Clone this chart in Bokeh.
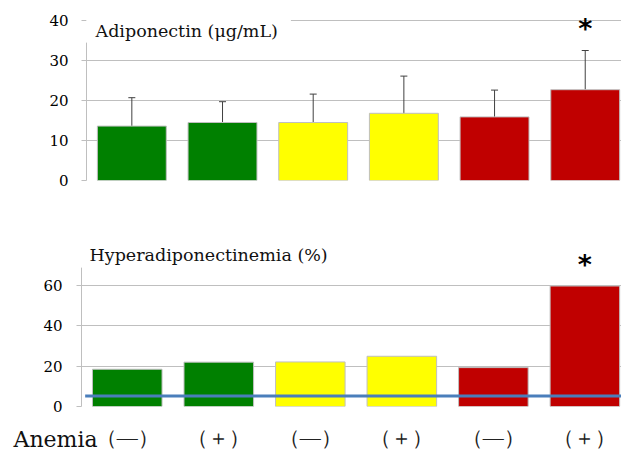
from bokeh.plotting import figure
from bokeh.layouts import column
from bokeh.models import (ColumnDataSource, Whisker, TeeHead, Label, LabelSet, FixedTicker,
                          Range1d, LinearAxis)
from bokeh.embed import file_html
from bokeh.resources import INLINE

# ---------------- data ----------------
groups = ["（—）", "（＋）", "（—）", "（＋）", "（—）", "（＋）"]
bar_colors = ["#008000", "#008000", "#FFFF00", "#FFFF00", "#C00000", "#C00000"]
adiponectin_mean = [13.6, 14.5, 14.5, 16.8, 15.9, 22.7]
adiponectin_sd = [7.1, 5.2, 7.1, 9.3, 6.7, 9.8]
hyper_pct = [18.4, 21.9, 22.0, 24.8, 19.2, 59.5]
reference_pct = 5.2
significant = [False, False, False, False, False, True]
top_ticks = [0, 10, 20, 30, 40]
bottom_ticks = [0, 20, 40, 60]
bottom_grid = [0, 20, 40, 60, 80]

positions = [i + 0.5 for i in range(len(groups))]
GRID = "#BFBFBF"
SERIF = "DejaVu Serif"
BAR_W = 0.76
X_END = 5.9
W = 621
LEFT2 = 81


def style(p, ticks, grid_ticks, line_bounds, standoff):
    p.frame_align = False
    p.xaxis.visible = False
    p.xgrid.visible = False
    p.ygrid.ticker = FixedTicker(ticks=grid_ticks)
    p.ygrid.grid_line_color = GRID
    p.ygrid.grid_line_width = 1
    inner = p.left[0]
    inner.ticker = FixedTicker(ticks=[])
    inner.bounds = line_bounds
    inner.axis_line_color = GRID
    inner.major_tick_line_color = None
    inner.minor_tick_line_color = None
    inner.major_label_standoff = 0
    outer = LinearAxis(ticker=FixedTicker(ticks=ticks), axis_line_color=None,
                       major_tick_line_color=GRID, major_tick_in=0, major_tick_out=5,
                       minor_tick_line_color=None,
                       major_label_text_font=SERIF, major_label_text_font_size="15px",
                       major_label_text_color="#000000", major_label_standoff=standoff)
    p.add_layout(outer, "left")
    p.outline_line_color = None
    p.background_fill_color = "white"
    p.border_fill_color = "white"


# ---------------- top chart ----------------
src1 = ColumnDataSource(dict(
    x=positions, top=adiponectin_mean, color=bar_colors,
    upper=[m + s for m, s in zip(adiponectin_mean, adiponectin_sd)],
    lower=[m - s for m, s in zip(adiponectin_mean, adiponectin_sd)],
))

p1 = figure(width=W, height=200, output_backend="svg", toolbar_location=None,
            x_range=Range1d(0, X_END), y_range=Range1d(0, 42.5),
            min_border_left=86, min_border_right=0, min_border_top=10, min_border_bottom=20)
style(p1, top_ticks, top_ticks, (0, 34.5), 13)
p1.vbar(x="x", top="top", width=BAR_W, bottom=0, fill_color="color",
        line_color=GRID, line_width=1, source=src1)
p1.add_layout(Whisker(source=src1, base="x", upper="upper", lower="lower",
                      line_color="#404040", line_width=1,
                      upper_head=TeeHead(size=7, line_color="#404040", line_width=1),
                      lower_head=TeeHead(size=7, line_color="#404040", line_width=1)))
p1.add_layout(Label(x=-2, y=155, x_units="screen", y_units="screen",
                    text="Adiponectin (μg/mL)", text_font=SERIF, text_font_size="17.5px",
                    text_baseline="middle", text_align="left", text_color="#111111",
                    background_fill_color="white",
                    padding=dict(left=11, right=13, top=12, bottom=2)))
for xi, yi, si in zip(positions, src1.data["upper"], significant):
    if si:
        p1.add_layout(Label(x=xi, y=yi, y_offset=7, text="*", text_align="center",
                            text_font="DejaVu Sans", text_font_style="bold",
                            text_font_size="27px", text_color="black"))

# ---------------- bottom chart ----------------
src2 = ColumnDataSource(dict(x=positions, top=hyper_pct, color=bar_colors, label=groups))

p2 = figure(width=W, height=218, output_backend="svg", toolbar_location=None,
            x_range=Range1d(0, X_END), y_range=Range1d(0, 80),
            min_border_left=LEFT2, min_border_right=0, min_border_top=44, min_border_bottom=12)
style(p2, bottom_ticks, bottom_grid, (0, 68.5), 14)
p2.vbar(x="x", top="top", width=BAR_W, bottom=0, fill_color="color",
        line_color=GRID, line_width=1, source=src2)
p2.line(x=[positions[0] - 0.46, X_END], y=[reference_pct, reference_pct],
        line_color="#4A7EBB", line_width=3)
p2.add_layout(Label(x=-2, y=154.5, x_units="screen", y_units="screen",
                    text="Hyperadiponectinemia (%)", text_font=SERIF, text_font_size="17.5px",
                    text_baseline="middle", text_align="left", text_color="#111111",
                    background_fill_color="white",
                    padding=dict(left=10, right=13, top=8, bottom=3)))
for xi, yi, si in zip(positions, hyper_pct, significant):
    if si:
        p2.add_layout(Label(x=xi, y=yi, y_offset=6, text="*", text_align="center",
                            text_font="DejaVu Sans", text_font_style="bold",
                            text_font_size="27px", text_color="black"))

# ---------------- category label row ----------------
x_start = -LEFT2 * X_END / (W - LEFT2)
p3 = figure(width=W, height=34, output_backend="svg", toolbar_location=None,
            x_range=Range1d(x_start, X_END), y_range=Range1d(0, 1),
            min_border_left=0, min_border_right=0, min_border_top=0, min_border_bottom=0)
p3.frame_align = False
p3.xaxis.visible = False
p3.yaxis.visible = False
p3.grid.visible = False
p3.outline_line_color = None
p3.add_layout(LabelSet(source=src2, x="x", y=8, y_units="screen", text="label",
                       text_align="center", text_baseline="alphabetic",
                       text_font="Noto Sans CJK JP", text_font_size="21px",
                       text_color="#222222"))
p3.add_layout(Label(x=13, y=13, x_units="screen", y_units="screen", text="Anemia",
                    text_font=SERIF, text_font_size="22px", text_baseline="alphabetic",
                    text_color="#111111"))

layout = column(p1, p2, p3, spacing=0)
open("out.html", "w").write(file_html(layout, INLINE))
